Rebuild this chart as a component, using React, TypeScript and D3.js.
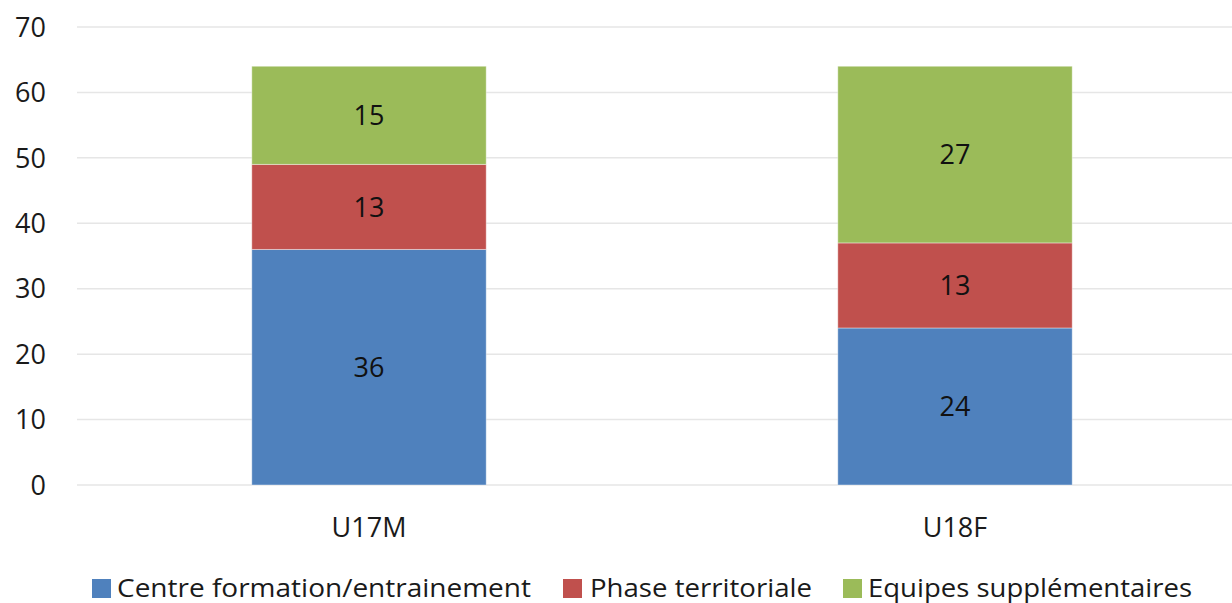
import React from "react";
import * as d3 from "d3";

const categories = ["U17M", "U18F"];
const seriesNames = ["Centre formation/entrainement", "Phase territoriale", "Equipes supplémentaires"];
const centre = [36, 24];
const phase = [13, 13];
const equipes = [15, 27];
const colors = ["#4F81BD", "#C0504D", "#9BBB59"];
const yTicks = [0, 10, 20, 30, 40, 50, 60, 70];

const W = 1232;
const H = 603;
const font = "'Open Sans', 'Noto Sans', sans-serif";

const App: React.FC = () => {
  const x = d3
    .scaleBand<string>()
    .domain(categories)
    .range([76, 1248])
    .paddingInner(0.6)
    .paddingOuter(0.3);

  const y = d3.scaleLinear().domain([0, 70]).range([485, 27]);

  const rows = categories.map((c, i) => ({
    cat: c,
    centre: centre[i],
    phase: phase[i],
    equipes: equipes[i],
  }));
  const stacked = d3.stack<any>().keys(["centre", "phase", "equipes"])(rows);

  // legend layout: square x, text x, text length
  const legendItems = [
    { x: 92, tx: 117, len: 414 },
    { x: 563, tx: 590, len: 222 },
    { x: 843, tx: 868, len: 324 },
  ];

  return (
    <svg
      width={W}
      height={H}
      style={{ position: "absolute", left: 0, top: 0, display: "block", fontFamily: font }}
    >
      <rect width={W} height={H} fill="#fff" />
      {yTicks.map((t) => (
        <g key={t}>
          <line x1={77} x2={W} y1={y(t)} y2={y(t)} stroke="#e6e6e6" strokeWidth={1.5} />
          <text x={46} y={y(t)} dy="0.36em" textAnchor="end" fontSize={27} fill="#1a1a1a">
            {t}
          </text>
        </g>
      ))}
      {stacked.map((s, si) => (
        <g key={si}>
          {s.map((d, i) => {
            const x0 = x(categories[i]) as number;
            const y0 = y(d[1]);
            const h = y(d[0]) - y(d[1]);
            return (
              <g key={i}>
                <rect x={x0} y={y0} width={x.bandwidth()} height={h} fill={colors[si]} stroke="#fff" strokeOpacity={0.4} strokeWidth={1} />
                <text
                  x={x0 + x.bandwidth() / 2}
                  y={y0 + h / 2}
                  dy="0.36em"
                  textAnchor="middle"
                  fontSize={27}
                  fill="#111"
                >
                  {d[1] - d[0]}
                </text>
              </g>
            );
          })}
        </g>
      ))}
      {categories.map((c) => (
        <text
          key={c}
          x={(x(c) as number) + x.bandwidth() / 2}
          y={527}
          dy="0.36em"
          textAnchor="middle"
          fontSize={27}
          fill="#1a1a1a"
        >
          {c}
        </text>
      ))}
      {seriesNames.map((n, i) => (
        <g key={n}>
          <rect x={legendItems[i].x} y={579} width={19} height={19} fill={colors[i]} />
          <text
            x={legendItems[i].tx}
            y={597}
            fontSize={25}
            fill="#1a1a1a"
            textLength={legendItems[i].len}
            lengthAdjust="spacingAndGlyphs"
          >
            {n}
          </text>
        </g>
      ))}
    </svg>
  );
};

export default App;
